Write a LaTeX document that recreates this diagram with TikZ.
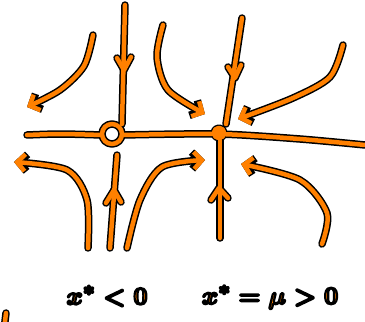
\documentclass[tikz,border=0pt]{standalone}
\usetikzlibrary{arrows.meta}

\definecolor{penorange}{RGB}{255,128,0}
% outlined lettering: fill orange, stroke black
\newcommand\inked[1]{\special{pdf:literal 2 Tr 2.2 w 1 j 0 0 0 RG}#1\special{pdf:literal 0 Tr}}

\tikzset{
  inklayer/.style={black, line width=7.5pt, line cap=round, line join=round},
  penlayer/.style={penorange, line width=4.5pt, line cap=round, line join=round},
  endtip/.style={-{Straight Barb[length=8pt, width=17pt]}},
  label/.style={text=penorange, font=\fontsize{28}{28}\selectfont\boldmath}
}

% all strokes of the portrait, drawn once per layer
\newcommand\phasestrokes[1]{%
  % horizontal axis, broken at the open circle
  \draw[#1] plot[smooth] coordinates {(27,135) (60,134) (102,135)};
  \draw[#1] plot[smooth] coordinates {(123,135) (218,134) (300,139) (365,145)};
  % vertical lines through the fixed points
  \draw[#1] (125,5) -- (122,124);
  \draw[#1] (110,248) -- (117,155);
  \draw[#1] (242,18) -- (226,124);
  \draw[#1] (220,140) -- (220,238);
  % arrows on the vertical lines
  \draw[#1] (117,58) -- (124,70) -- (131,57);
  \draw[#1] (228,67) -- (235,78) -- (241,65);
  \draw[#1] (106,203) -- (114,190) -- (121,202);
  \draw[#1] (211,200) -- (219,188) -- (228,198);
  % curved trajectories
  \draw[#1, endtip] plot[smooth] coordinates {(93,35) (84,66) (60,90) (27,107)};
  \draw[#1, endtip] plot[smooth] coordinates {(163,25) (157,57) (168,90) (205,114)};
  \draw[#1, endtip] plot[smooth] coordinates {(343,45) (330,77) (293,98) (238,119)};
  \draw[#1, endtip] plot[smooth] coordinates {(88,248) (87,200) (67,170) (14,162)};
  \draw[#1, endtip] plot[smooth] coordinates {(127,248) (140,200) (162,167) (205,160)};
  \draw[#1, endtip] plot[smooth] coordinates {(322,244) (327,213) (300,180) (241,164)};
  % fixed points
  \draw[#1] (112,134) circle[radius=10pt];
  \draw[#1] (219,133) circle[radius=5pt];
  % stray stroke at the edge
  \draw[#1] (6,313) -- (4,330);
}

\begin{document}
\begin{tikzpicture}[x=1pt, y=-1pt]
  \useasboundingbox (0,0) rectangle (365,322);
  \phasestrokes{inklayer}
  \phasestrokes{penlayer}
  \fill[penorange] (219,133) circle[radius=7pt];
  % labels of the two fixed points
  \node[label] (negfix) at (107,296) {\inked{$x^*<0$}};
  \node[label] (posfix) at (270,297) {\inked{$x^*=\mu>0$}};
\end{tikzpicture}
\end{document}
